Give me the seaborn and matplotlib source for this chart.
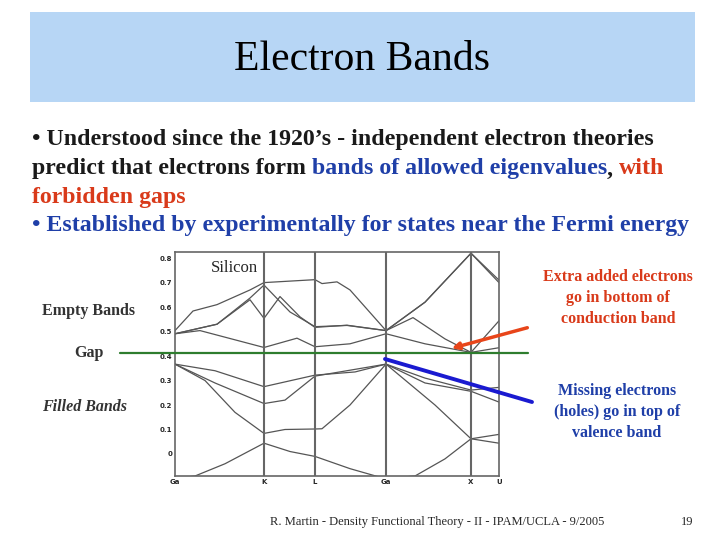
import matplotlib
matplotlib.use("Agg")
import matplotlib.pyplot as plt
import seaborn as sns
from matplotlib.patches import Rectangle, FancyArrowPatch
from matplotlib.lines import Line2D

sns.set_theme(style="white")
plt.rcParams['font.family'] = ['Liberation Serif', 'DejaVu Serif']

kpoints = [0, 89, 140, 211, 296, 324]
klabels = ["Ga", "K", "L", "Ga", "X", "U"]

b1_x = [0, 20, 50, 89, 115, 140, 175, 205, 211, 240, 270, 296, 324]
b1_y = [-0.1, -0.09, -0.04, 0.044, 0.01, -0.01, -0.06, -0.095, -0.1, -0.09, -0.02, 0.062, 0.044]
b2_x = [0, 30, 60, 89, 110, 140, 147, 175, 211, 260, 296, 324]
b2_y = [0.367, 0.3, 0.17, 0.084, 0.1, 0.102, 0.103, 0.2, 0.367, 0.2, 0.062, 0.08]
b3_x = [0, 40, 89, 110, 140, 211, 250, 296, 324]
b3_y = [0.367, 0.29, 0.206, 0.22, 0.318, 0.367, 0.29, 0.256, 0.212]
b4_x = [0, 40, 89, 140, 180, 211, 250, 296, 324]
b4_y = [0.367, 0.34, 0.275, 0.322, 0.335, 0.367, 0.31, 0.261, 0.272]
b5_x = [0, 25, 89, 122, 140, 175, 211, 250, 296, 324]
b5_y = [0.491, 0.504, 0.435, 0.473, 0.438, 0.45, 0.491, 0.45, 0.415, 0.434]
b6_x = [0, 42, 75, 89, 105, 125, 140, 172, 211, 238, 270, 296, 324]
b6_y = [0.491, 0.53, 0.63, 0.554, 0.643, 0.56, 0.517, 0.526, 0.504, 0.557, 0.47, 0.415, 0.544]
b7_x = [0, 42, 75, 89, 115, 140, 172, 211, 250, 296, 324]
b7_y = [0.491, 0.53, 0.637, 0.69, 0.58, 0.52, 0.525, 0.504, 0.62, 0.82, 0.70]
b8_x = [0, 18, 42, 75, 89, 140, 147, 162, 175, 211, 250, 296, 324]
b8_y = [0.504, 0.584, 0.61, 0.67, 0.70, 0.712, 0.696, 0.703, 0.67, 0.504, 0.62, 0.82, 0.71]
bands = [(b1_x, b1_y), (b2_x, b2_y), (b3_x, b3_y), (b4_x, b4_y),
         (b5_x, b5_y), (b6_x, b6_y), (b7_x, b7_y), (b8_x, b8_y)]
yticks = [0, 0.1, 0.2, 0.3, 0.4, 0.5, 0.6, 0.7, 0.8]
yticklabels = ["0", "0.1", "0.2", "0.3", "0.4", "0.5", "0.6", "0.7", "0.8"]

fig = plt.figure(figsize=(7.2, 5.4), dpi=100)
fig.patch.set_facecolor("white")
W, H = 720, 540
def fx(x): return x / W
def fy(y): return 1 - y / H

fig.patches.append(Rectangle((fx(30), fy(102)), fx(665), 90 / H, transform=fig.transFigure,
                             facecolor="#b7d6f5", edgecolor="none", zorder=0))
fig.text(fx(362), fy(60), "Electron Bands", ha="center", va="center", fontsize=30, color="black")

lines = [
    [("• Understood since the 1920’s - independent electron theories", "#1a1a1a")],
    [("predict that electrons form ", "#1a1a1a"), ("bands of allowed eigenvalues", "#1f3fa8"),
     (", ", "#1a1a1a"), ("with", "#d93a1a")],
    [("forbidden gaps", "#d93a1a")],
    [("• Established by experimentally for states near the Fermi energy", "#1f3fa8")],
]
ys = [140, 169, 197, 226]
renderer = fig.canvas.get_renderer()
for segs, y in zip(lines, ys):
    x = fx(32)
    for s, c in segs:
        t = fig.text(x, fy(y), s, fontsize=17.2, fontweight="bold", color=c,
                     va="center", ha="left")
        bb = t.get_window_extent(renderer=renderer)
        x += bb.width / fig.bbox.width

ax = fig.add_axes([fx(175), fy(476), fx(324), 224 / H])
for bx, by in bands:
    sns.lineplot(x=bx, y=by, ax=ax, color="#555555", linewidth=0.9, sort=False)
for k in kpoints[1:-1]:
    ax.axvline(k, color="#666666", linewidth=1.5)
ax.set_xlim(0, 324)
ax.set_ylim(-0.09, 0.825)
ax.set_xticks(kpoints)
ax.set_xticklabels(klabels, fontsize=5, fontweight="bold", family=["DejaVu Sans"])
ax.set_yticks(yticks)
ax.set_yticklabels(yticklabels, fontsize=5, fontweight="bold", family=["DejaVu Sans"])
ax.tick_params(length=0, pad=2)
for sp in ax.spines.values():
    sp.set_color("#666666"); sp.set_linewidth(1.2)
ax.text(0.11, 0.93, "Silicon", transform=ax.transAxes, fontsize=12, ha="left", va="center")

fig.lines.append(Line2D([fx(120), fx(528)], [fy(353), fy(353)], transform=fig.transFigure,
                        color="#2e7d2e", linewidth=1.6))
fig.patches.append(FancyArrowPatch((fx(530), fy(327)), (fx(449), fy(349)), transform=fig.transFigure,
                                   color="#e8451a", linewidth=2.5, arrowstyle="-|>", mutation_scale=10))
fig.lines.append(Line2D([fx(385), fx(532)], [fy(359), fy(402)], transform=fig.transFigure,
                        color="#1a1ad0", linewidth=2.8))

fig.text(fx(89), fy(311), "Empty Bands", fontsize=11.5, fontweight="bold", color="#333333", ha="center", va="center")
fig.text(fx(89), fy(353), "Gap", fontsize=11.5, fontweight="bold", color="#333333", ha="center", va="center")
fig.text(fx(85), fy(407), "Filled Bands", fontsize=11.5, fontweight="bold", fontstyle="italic", color="#333333", ha="center", va="center")
fig.text(fx(618), fy(298), "Extra added electrons\ngo in bottom of\nconduction band", fontsize=11.5,
         fontweight="bold", color="#d93a1a", ha="center", va="center", linespacing=1.45)
fig.text(fx(617), fy(412), "Missing electrons\n(holes) go in top of\nvalence band", fontsize=11.5,
         fontweight="bold", color="#1f3fa8", ha="center", va="center", linespacing=1.45)
fig.text(fx(437), fy(522), "R. Martin - Density Functional Theory - II - IPAM/UCLA - 9/2005",
         fontsize=9, ha="center", va="center")
fig.text(fx(687), fy(522), "19", fontsize=9, ha="center", va="center")

fig.savefig("out.png", dpi=100)
